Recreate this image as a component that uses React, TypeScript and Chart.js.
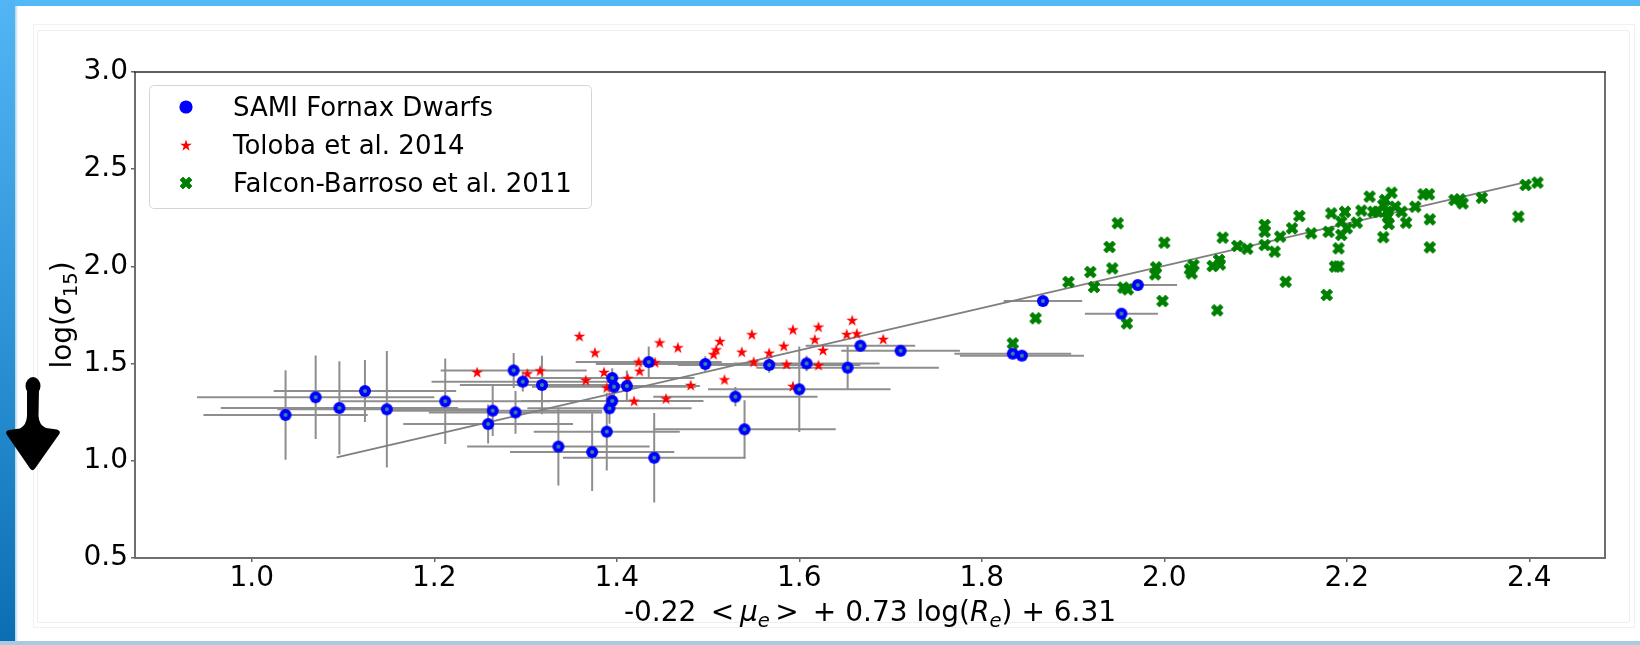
import React, { useEffect, useRef } from "react";
import { Chart, registerables } from "chart.js";

Chart.register(...registerables);

// ---------------- data ----------------
const samiX = [1.037, 1.070, 1.096, 1.124, 1.148, 1.212, 1.259, 1.264, 1.287, 1.297, 1.289, 1.318, 1.336, 1.373, 1.389, 1.392, 1.395, 1.397, 1.395, 1.411, 1.435, 1.441, 1.497, 1.530, 1.540, 1.567, 1.608, 1.600, 1.653, 1.667, 1.711, 1.834, 1.844, 1.867, 1.971, 1.953];
const samiY = [1.236, 1.327, 1.272, 1.359, 1.265, 1.306, 1.189, 1.258, 1.465, 1.407, 1.249, 1.390, 1.073, 1.045, 1.150, 1.270, 1.308, 1.381, 1.426, 1.385, 1.508, 1.016, 1.498, 1.330, 1.162, 1.493, 1.501, 1.368, 1.479, 1.592, 1.566, 1.551, 1.541, 1.822, 1.904, 1.757];
const samiXErr = [0.09, 0.13, 0.13, 0.10, 0.12, 0.115, 0.093, 0.12, 0.08, 0.10, 0.095, 0.09, 0.10, 0.09, 0.08, 0.09, 0.10, 0.09, 0.09, 0.08, 0.08, 0.10, 0.12, 0.09, 0.10, 0.10, 0.08, 0.10, 0.10, 0.06, 0.065, 0.064, 0.068, 0.043, 0.043, 0.04];
const samiYErr = [0.23, 0.215, 0.24, 0.16, 0.30, 0.22, 0.10, 0.13, 0.09, 0.05, 0.11, 0.15, 0.20, 0.20, 0.20, 0.08, 0.06, 0.05, 0.05, 0.08, 0.08, 0.23, 0.04, 0.05, 0.15, 0.04, 0.04, 0.22, 0.11, 0.03, 0.02, 0.02, 0.02, 0.02, 0.02, 0.02];

const tolobaX = [1.247, 1.302, 1.316, 1.359, 1.376, 1.366, 1.386, 1.389, 1.412, 1.419, 1.424, 1.425, 1.442, 1.447, 1.454, 1.467, 1.481, 1.506, 1.509, 1.513, 1.518, 1.537, 1.548, 1.550, 1.567, 1.568, 1.583, 1.586, 1.593, 1.593, 1.617, 1.621, 1.621, 1.626, 1.652, 1.658, 1.663, 1.692];
const tolobaY = [1.457, 1.450, 1.465, 1.642, 1.558, 1.416, 1.457, 1.378, 1.426, 1.309, 1.510, 1.463, 1.507, 1.609, 1.321, 1.584, 1.390, 1.549, 1.573, 1.616, 1.419, 1.561, 1.651, 1.510, 1.556, 1.498, 1.592, 1.498, 1.385, 1.676, 1.625, 1.493, 1.690, 1.570, 1.652, 1.724, 1.656, 1.627];

const falconX = [1.834, 1.859, 1.895, 1.919, 1.923, 1.940, 1.943, 1.949, 1.955, 1.960, 1.959, 1.990, 1.991, 1.998, 2.000, 2.030, 2.028, 2.032, 2.053, 2.061, 2.058, 2.060, 2.064, 2.080, 2.091, 2.110, 2.110, 2.110, 2.121, 2.127, 2.133, 2.140, 2.148, 2.161, 2.178, 2.183, 2.180, 2.187, 2.191, 2.191, 2.198, 2.194, 2.194, 2.200, 2.211, 2.216, 2.225, 2.229, 2.234, 2.240, 2.240, 2.242, 2.244, 2.245, 2.246, 2.249, 2.253, 2.260, 2.265, 2.275, 2.284, 2.290, 2.291, 2.291, 2.318, 2.324, 2.327, 2.348, 2.388, 2.396, 2.409];
const falconY = [1.604, 1.733, 1.920, 1.971, 1.894, 2.100, 1.990, 2.222, 1.891, 1.882, 1.707, 1.959, 1.995, 1.822, 2.122, 1.964, 1.985, 2.007, 2.002, 2.010, 1.774, 2.033, 2.148, 2.105, 2.091, 2.213, 2.110, 2.178, 2.076, 2.153, 1.921, 2.196, 2.259, 2.170, 1.853, 2.273, 2.178, 1.999, 2.000, 2.093, 2.281, 2.162, 2.230, 2.196, 2.225, 2.287, 2.359, 2.281, 2.281, 2.150, 2.316, 2.342, 2.281, 2.256, 2.218, 2.379, 2.307, 2.281, 2.225, 2.307, 2.371, 2.371, 2.242, 2.098, 2.342, 2.345, 2.324, 2.353, 2.256, 2.419, 2.431];

const fitX = [1.093, 2.395];
const fitY = [1.018, 2.432];

const xTickValues = [1.0, 1.2, 1.4, 1.6, 1.8, 2.0, 2.2, 2.4];
const yTickValues = [0.5, 1.0, 1.5, 2.0, 2.5, 3.0];
const xRange = [0.872, 2.483];
const yRange = [0.5, 3.0];

const seriesLabels = ["SAMI Fornax Dwarfs", "Toloba et al. 2014", "Falcon-Barroso et al. 2011"];
// --------------------------------------

const FONT = '"DejaVu Sans", "Liberation Sans", sans-serif';

function markerCanvas(draw: (g: CanvasRenderingContext2D) => void, size = 18) {
  const c = document.createElement("canvas");
  c.width = size;
  c.height = size;
  const g = c.getContext("2d") as CanvasRenderingContext2D;
  g.translate(size / 2, size / 2);
  draw(g);
  return c;
}

function circleMarker(r: number, dot: boolean) {
  return markerCanvas((g) => {
    g.fillStyle = "#0000ff";
    g.beginPath();
    g.arc(0, 0, r, 0, Math.PI * 2);
    g.fill();
    if (dot) {
      g.fillStyle = "#3c8c9a";
      g.beginPath();
      g.arc(0, 0, 2, 0, Math.PI * 2);
      g.fill();
    }
  });
}

function starMarker(R: number) {
  return markerCanvas((g) => {
    const r = R * 0.381966;
    g.fillStyle = "#ff0000";
    g.beginPath();
    for (let i = 0; i < 10; i++) {
      const a = -Math.PI / 2 + (i * Math.PI) / 5;
      const rad = i % 2 === 0 ? R : r;
      const px = Math.cos(a) * rad;
      const py = Math.sin(a) * rad + R * 0.1;
      if (i === 0) g.moveTo(px, py);
      else g.lineTo(px, py);
    }
    g.closePath();
    g.fill();
  });
}

function xMarker(s: number) {
  return markerCanvas((g) => {
    const pts = [[0.25, 0], [0.5, 0.25], [0.25, 0.5], [0, 0.25], [-0.25, 0.5], [-0.5, 0.25], [-0.25, 0], [-0.5, -0.25], [-0.25, -0.5], [0, -0.25], [0.25, -0.5], [0.5, -0.25]];
    g.fillStyle = "#008000";
    g.strokeStyle = "#008000";
    g.lineWidth = 0.8;
    g.lineJoin = "round";
    g.beginPath();
    pts.forEach(([a, b], i) => {
      if (i === 0) g.moveTo(a * s, b * s);
      else g.lineTo(a * s, b * s);
    });
    g.closePath();
    g.fill();
    g.stroke();
  });
}

type Seg = { t: string; it?: boolean; sub?: boolean };

function segFont(s: Seg, size: number) {
  const sz = s.sub ? Math.round(size * 0.7 * 10) / 10 : size;
  return `${s.it ? "italic " : ""}${sz}px ${FONT}`;
}

function drawSegs(ctx: CanvasRenderingContext2D, segs: Seg[], size: number, cx: number, cy: number, rot: number) {
  ctx.save();
  ctx.translate(cx, cy);
  if (rot) ctx.rotate(rot);
  const widths = segs.map((s) => {
    ctx.font = segFont(s, size);
    return ctx.measureText(s.t).width;
  });
  const total = widths.reduce((a, b) => a + b, 0);
  let x = -total / 2;
  ctx.textBaseline = "alphabetic";
  ctx.textAlign = "left";
  ctx.fillStyle = "#000";
  segs.forEach((s, i) => {
    ctx.font = segFont(s, size);
    ctx.fillText(s.t, x, s.sub ? size * 0.2 : 0);
    x += widths[i];
  });
  ctx.restore();
}

const xTitle: Seg[] = [
  { t: "-0.22 \u2009<" },
  { t: "\u2009" },
  { t: "\u03bc", it: true },
  { t: "e", it: true, sub: true },
  { t: "\u2009>\u2002" },
  { t: "+ 0.73 log(" },
  { t: "R", it: true },
  { t: "e", it: true, sub: true },
  { t: ") + 6.31" },
];

const yTitle: Seg[] = [
  { t: "log(" },
  { t: "\u03c3", it: true },
  { t: "15", sub: true },
  { t: ")" },
];

export default function App() {
  const ref = useRef<HTMLCanvasElement | null>(null);

  useEffect(() => {
    if (!ref.current) return;
    const plotCircle = circleMarker(6, true);
    const plotStar = starMarker(6.2);
    const plotX = xMarker(12);
    const legCircle = circleMarker(6.6, false);
    const legendMarkers = [legCircle, plotStar, plotX];

    const errorBars = {
      id: "errorBars",
      beforeDatasetsDraw(chart: any) {
        const { ctx, chartArea, scales } = chart;
        const xs = scales.x;
        const ys = scales.y;
        ctx.save();
        ctx.beginPath();
        ctx.rect(chartArea.left, chartArea.top, chartArea.right - chartArea.left, chartArea.bottom - chartArea.top);
        ctx.clip();
        ctx.strokeStyle = "#8e8e8e";
        ctx.lineWidth = 2;
        samiX.forEach((xv, i) => {
          const yv = samiY[i];
          const px = xs.getPixelForValue(xv);
          const py = ys.getPixelForValue(yv);
          ctx.beginPath();
          ctx.moveTo(xs.getPixelForValue(xv - samiXErr[i]), py);
          ctx.lineTo(xs.getPixelForValue(xv + samiXErr[i]), py);
          ctx.moveTo(px, ys.getPixelForValue(yv - samiYErr[i]));
          ctx.lineTo(px, ys.getPixelForValue(yv + samiYErr[i]));
          ctx.stroke();
        });
        ctx.restore();
      },
    };

    const decor = {
      id: "decor",
      afterDraw(chart: any) {
        const { ctx, chartArea } = chart;
        const { left, right, top, bottom } = chartArea;
        ctx.save();
        // frame
        ctx.lineWidth = 2;
        ctx.strokeStyle = "#6e6e6e";
        ctx.beginPath();
        ctx.moveTo(left, top);
        ctx.lineTo(left, bottom);
        ctx.lineTo(right, bottom);
        ctx.lineTo(right, top);
        ctx.stroke();
        ctx.lineWidth = 1.6;
        ctx.strokeStyle = "#2a2a2a";
        ctx.beginPath();
        ctx.moveTo(left - 1, top);
        ctx.lineTo(right + 1, top);
        ctx.stroke();

        // legend
        const lx = 149.5, ly = 85.5, lw = 442, lh = 123, rr = 5;
        ctx.beginPath();
        ctx.moveTo(lx + rr, ly);
        ctx.lineTo(lx + lw - rr, ly);
        ctx.quadraticCurveTo(lx + lw, ly, lx + lw, ly + rr);
        ctx.lineTo(lx + lw, ly + lh - rr);
        ctx.quadraticCurveTo(lx + lw, ly + lh, lx + lw - rr, ly + lh);
        ctx.lineTo(lx + rr, ly + lh);
        ctx.quadraticCurveTo(lx, ly + lh, lx, ly + lh - rr);
        ctx.lineTo(lx, ly + rr);
        ctx.quadraticCurveTo(lx, ly, lx + rr, ly);
        ctx.closePath();
        ctx.fillStyle = "rgba(255,255,255,0.85)";
        ctx.fill();
        ctx.strokeStyle = "#d4d4d4";
        ctx.lineWidth = 1;
        ctx.stroke();
        const rows = [106.7, 145, 183.3];
        ctx.font = `26px ${FONT}`;
        ctx.fillStyle = "#000";
        ctx.textAlign = "left";
        ctx.textBaseline = "alphabetic";
        rows.forEach((ry, i) => {
          const m = legendMarkers[i];
          ctx.drawImage(m, Math.round(186 - m.width / 2), Math.round(ry - m.height / 2));
          ctx.fillText(seriesLabels[i], 233, ry + 9);
        });

        // axis titles
        drawSegs(ctx, xTitle, 28, (left + right) / 2, 621, 0);
        drawSegs(ctx, yTitle, 28, 71, (top + bottom) / 2, -Math.PI / 2);
        ctx.restore();
      },
    };

    const tickFont = { family: FONT, size: 28, lineHeight: 1 };

    const chart = new Chart(ref.current, {
      type: "scatter",
      data: {
        datasets: [
          {
            label: seriesLabels[0],
            data: samiX.map((x, i) => ({ x, y: samiY[i] })),
            pointStyle: plotCircle as any,
            pointRadius: 6,
            backgroundColor: "#0000ff",
            borderColor: "#0000ff",
          },
          {
            label: seriesLabels[1],
            data: tolobaX.map((x, i) => ({ x, y: tolobaY[i] })),
            pointStyle: plotStar as any,
            pointRadius: 6,
            backgroundColor: "#ff0000",
            borderColor: "#ff0000",
          },
          {
            label: seriesLabels[2],
            data: falconX.map((x, i) => ({ x, y: falconY[i] })),
            pointStyle: plotX as any,
            pointRadius: 6,
            backgroundColor: "#008000",
            borderColor: "#008000",
          },
          {
            type: "line" as any,
            label: "fit",
            data: fitX.map((x, i) => ({ x, y: fitY[i] })),
            showLine: true,
            pointRadius: 0,
            borderColor: "#7f7f7f",
            borderWidth: 1.8,
            fill: false,
          } as any,
        ],
      },
      options: {
        animation: false,
        responsive: false,
        devicePixelRatio: 1,
        events: [],
        layout: { padding: { left: 0, top: 72, right: 35, bottom: 0 } },
        plugins: {
          legend: { display: false },
          tooltip: { enabled: false },
          title: { display: false },
        },
        scales: {
          x: {
            type: "linear",
            min: xRange[0],
            max: xRange[1],
            afterBuildTicks: (s: any) => {
              s.ticks = xTickValues.map((v) => ({ value: v }));
            },
            afterFit: (s: any) => {
              s.height = 87;
            },
            border: { display: false },
            grid: { drawOnChartArea: false, drawTicks: true, tickLength: 4, color: "#666", lineWidth: 1.5 },
            ticks: {
              font: tickFont,
              color: "#000",
              padding: 3,
              maxRotation: 0,
              autoSkip: false,
              includeBounds: false,
              callback: (v: any) => Number(v).toFixed(1),
            },
          },
          y: {
            type: "linear",
            min: yRange[0],
            max: yRange[1],
            afterBuildTicks: (s: any) => {
              s.ticks = yTickValues.map((v) => ({ value: v }));
            },
            afterFit: (s: any) => {
              s.width = 135;
            },
            border: { display: false },
            grid: { drawOnChartArea: false, drawTicks: true, tickLength: 4, color: "#666", lineWidth: 1.5 },
            ticks: {
              font: tickFont,
              color: "#000",
              padding: 3,
              autoSkip: false,
              includeBounds: false,
              callback: (v: any) => Number(v).toFixed(1),
            },
          },
        },
      },
      plugins: [errorBars, decor],
    } as any);

    return () => chart.destroy();
  }, []);

  return (
    <div style={{ position: "fixed", left: 0, top: 0, width: 1640, height: 645, overflow: "hidden", background: "#ffffff" }}>
      <div style={{ position: "absolute", left: 0, top: 0, width: 1640, height: 6, background: "#52b8f8" }} />
      <div style={{ position: "absolute", left: 0, top: 0, width: 15, height: 645, background: "linear-gradient(#52b6f4, #2d94d8 50%, #0a6fb2)" }} />
      <div style={{ position: "absolute", left: 15, top: 6, width: 3, height: 639, background: "linear-gradient(90deg, rgba(40,120,180,0.35), rgba(255,255,255,0))" }} />
      <div style={{ position: "absolute", left: 0, top: 641, width: 1640, height: 4, background: "#a9cbe2" }} />
      <div style={{ position: "absolute", left: 33, top: 24, width: 1602, height: 604, border: "1px solid #eaf3fb", boxSizing: "border-box" }} />
      <div style={{ position: "absolute", left: 37, top: 30, width: 1593, height: 593, border: "1px solid #eeeeee", borderRadius: 2, boxSizing: "border-box" }} />
      <canvas ref={ref} width={1640} height={645} style={{ position: "absolute", left: 0, top: 0, width: 1640, height: 645 }} />
      <svg width={70} height={110} viewBox="0 365 70 110" style={{ position: "absolute", left: 0, top: 365 }}>
        <ellipse cx={33} cy={386} rx={7.5} ry={9} fill="#000" />
        <path d="M27,388 L39,388 L38.5,416 Q39,425 46,428 L57,429.5 Q61.5,431 59,434.5 L35,468.5 Q32.5,472 30,468.5 L7,435 Q4.5,431 9,430 L20,428.5 Q26.5,425 27,416 Z" fill="#000" />
      </svg>
    </div>
  );
}
